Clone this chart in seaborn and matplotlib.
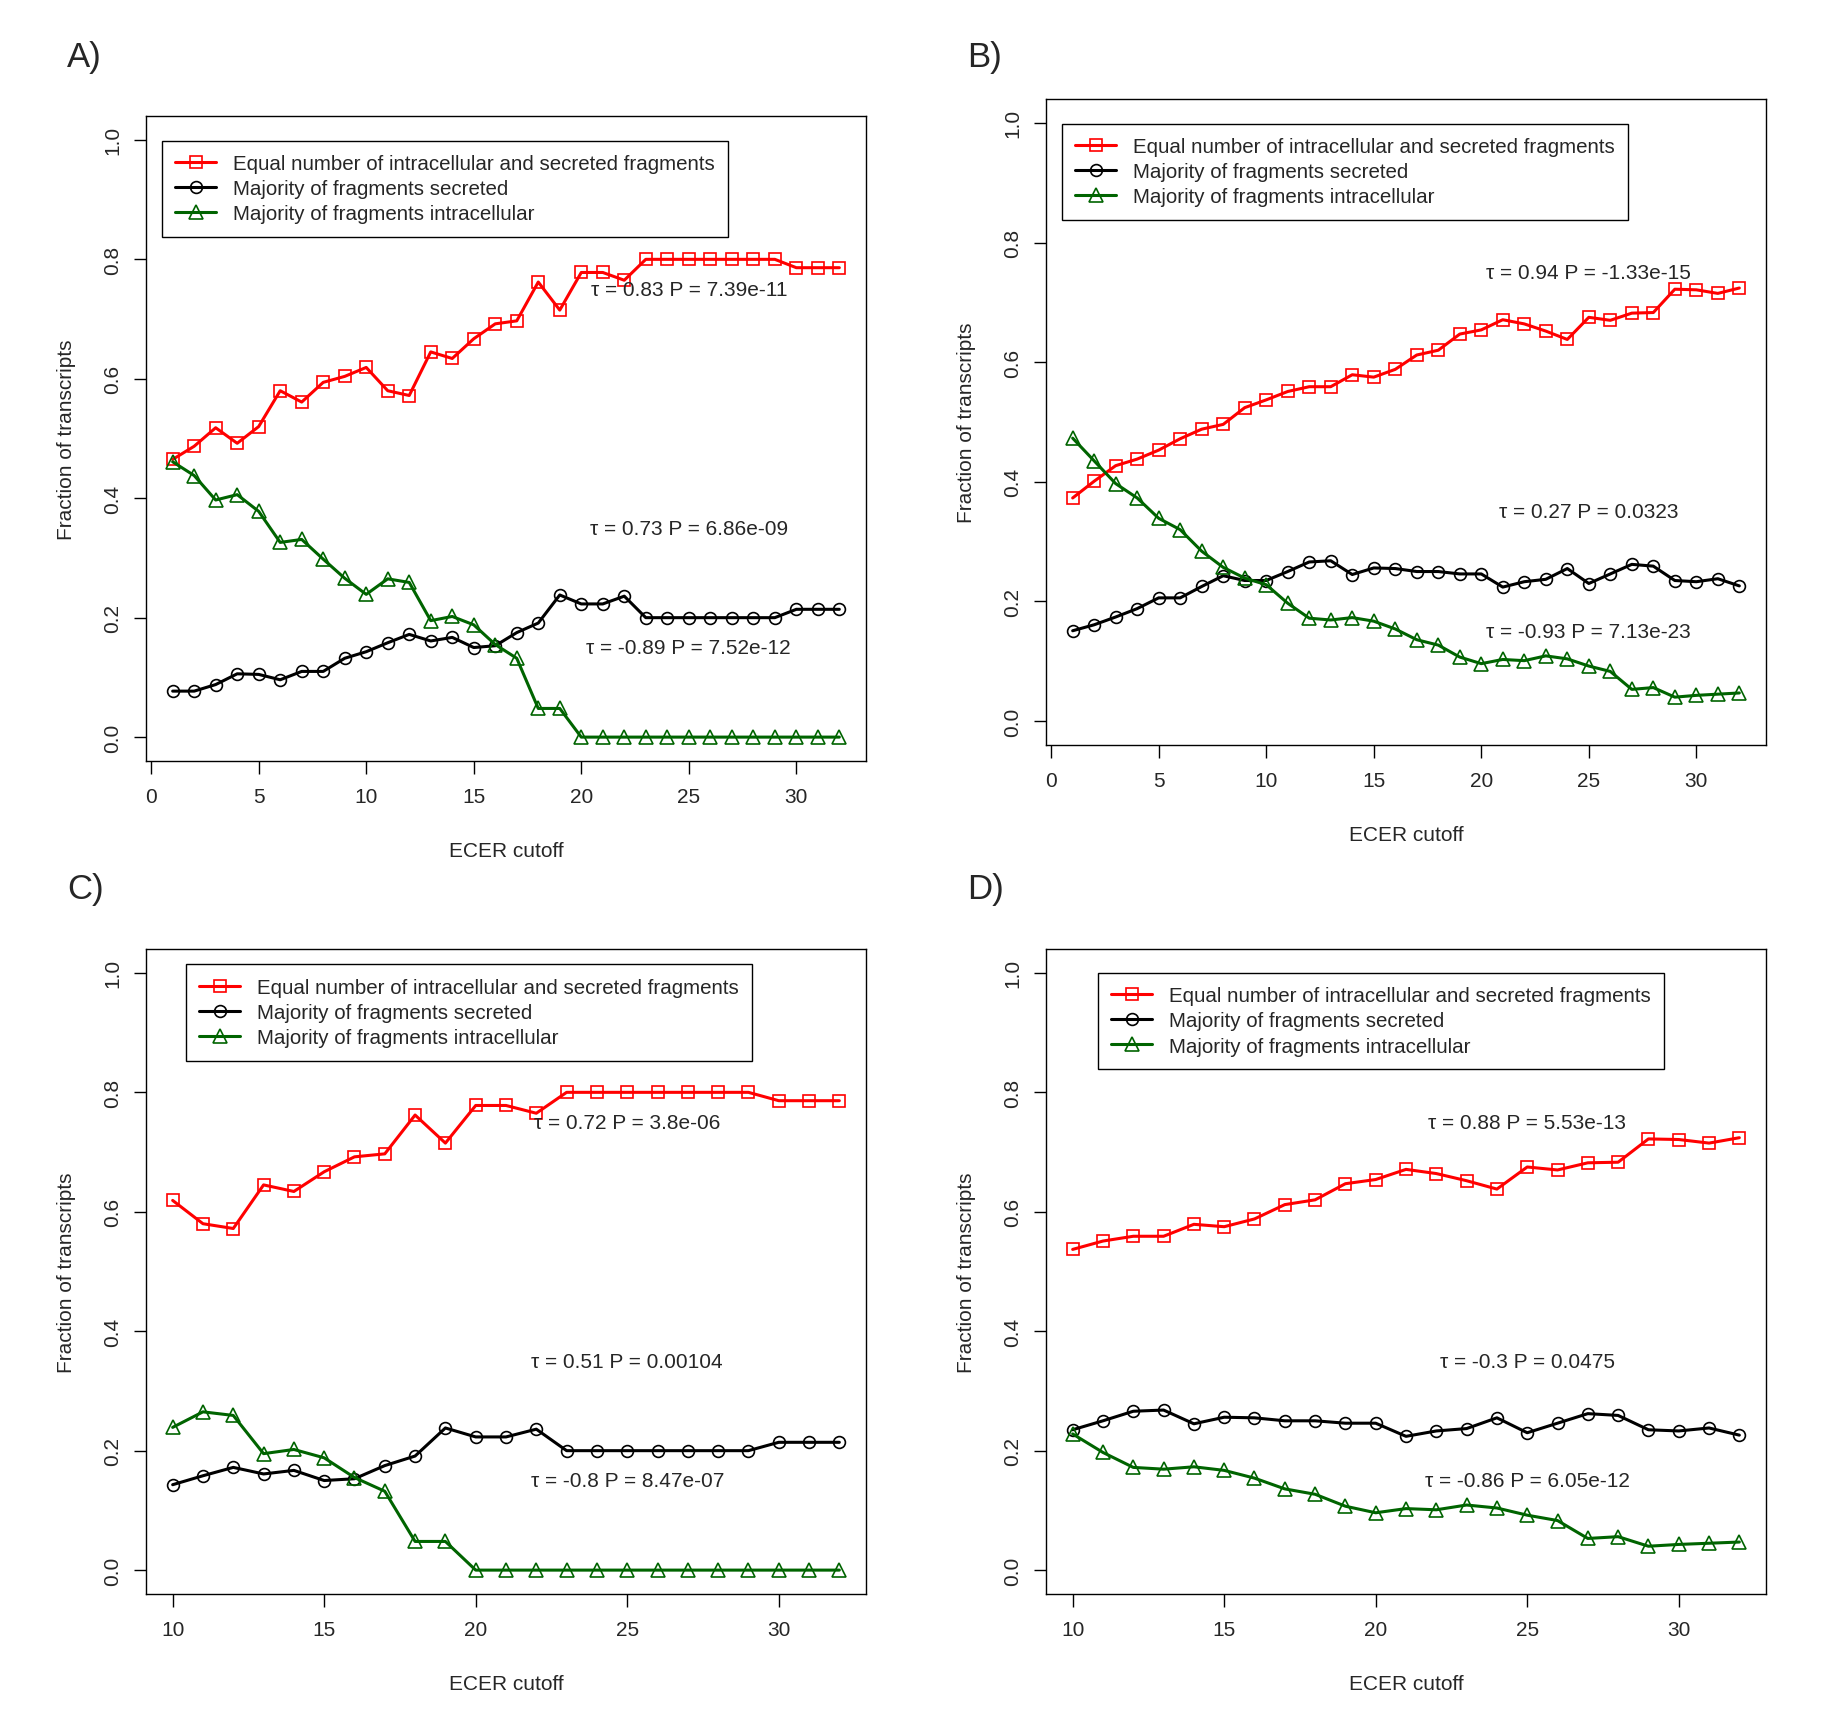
import matplotlib
matplotlib.use("Agg")
import matplotlib.pyplot as plt
import pandas as pd
import seaborn as sns

# ECER cutoffs 1..32 for panels A/B; panels C/D start at 10
cutoff = list(range(1, 33))

# panel A
a_equal = [0.465, 0.487, 0.518, 0.492, 0.520, 0.580, 0.561, 0.594, 0.604, 0.619,
           0.580, 0.572, 0.645, 0.634, 0.667, 0.692, 0.697, 0.762, 0.715, 0.778,
           0.778, 0.765, 0.800, 0.800, 0.800, 0.800, 0.800, 0.800, 0.800, 0.786,
           0.786, 0.786]
a_secreted = [0.077, 0.077, 0.088, 0.106, 0.105, 0.096, 0.110, 0.110, 0.132, 0.143,
              0.158, 0.172, 0.161, 0.167, 0.150, 0.153, 0.175, 0.191, 0.238, 0.223,
              0.223, 0.236, 0.200, 0.200, 0.200, 0.200, 0.200, 0.200, 0.200, 0.214,
              0.214, 0.214]
a_intra = [0.461, 0.438, 0.397, 0.406, 0.378, 0.326, 0.331, 0.298, 0.266, 0.239,
           0.265, 0.259, 0.195, 0.202, 0.188, 0.155, 0.132, 0.048, 0.048, 0.0,
           0.0, 0.0, 0.0, 0.0, 0.0, 0.0, 0.0, 0.0, 0.0, 0.0,
           0.0, 0.0]

# panel B
b_equal = [0.373, 0.401, 0.427, 0.438, 0.453, 0.472, 0.488, 0.496, 0.524, 0.537,
           0.551, 0.559, 0.559, 0.579, 0.575, 0.588, 0.612, 0.620, 0.647, 0.654,
           0.671, 0.664, 0.652, 0.638, 0.675, 0.670, 0.682, 0.683, 0.722, 0.721,
           0.715, 0.724]
b_secreted = [0.151, 0.161, 0.174, 0.188, 0.206, 0.206, 0.225, 0.243, 0.235, 0.235,
              0.250, 0.266, 0.268, 0.245, 0.256, 0.255, 0.250, 0.250, 0.246, 0.246,
              0.224, 0.233, 0.237, 0.255, 0.230, 0.246, 0.262, 0.259, 0.235, 0.233,
              0.238, 0.226]
b_intra = [0.473, 0.435, 0.397, 0.373, 0.339, 0.320, 0.284, 0.257, 0.239, 0.228,
           0.197, 0.172, 0.169, 0.173, 0.167, 0.154, 0.136, 0.127, 0.107, 0.096,
           0.103, 0.101, 0.109, 0.104, 0.092, 0.083, 0.053, 0.056, 0.040, 0.043,
           0.045, 0.047]

tau_a = ["τ = 0.83 P = 7.39e-11", "τ = 0.73 P = 6.86e-09", "τ = -0.89 P = 7.52e-12"]
tau_b = ["τ = 0.94 P = -1.33e-15", "τ = 0.27 P = 0.0323", "τ = -0.93 P = 7.13e-23"]
tau_c = ["τ = 0.72 P = 3.8e-06", "τ = 0.51 P = 0.00104", "τ = -0.8 P = 8.47e-07"]
tau_d = ["τ = 0.88 P = 5.53e-13", "τ = -0.3 P = 0.0475", "τ = -0.86 P = 6.05e-12"]

series_names = ["Equal number of intracellular and secreted fragments",
                "Majority of fragments secreted",
                "Majority of fragments intracellular"]
series_colors = ["#ff0000", "#000000", "#006400"]
series_markers = ["s", "o", "^"]

sns.set_style("white")
plt.rcParams["font.family"] = ["Liberation Sans", "DejaVu Sans"]
plt.rcParams["font.size"] = 15

W, H = 1833, 1733


def box(l, t, r, b):
    return [l / W, 1 - b / H, (r - l) / W, (b - t) / H]


def panel(ax, start, equal, secreted, intra, taus, xticks, leg_xy):
    x = cutoff[start:]
    for vals, name, col, mk in zip([equal, secreted, intra], series_names,
                                   series_colors, series_markers):
        df = pd.DataFrame({"x": x, "y": vals[start:]})
        ms = 9.5 if mk == "^" else 8.5
        sns.lineplot(data=df, x="x", y="y", ax=ax, color=col, marker=mk,
                     markersize=ms, markerfacecolor="none", markeredgecolor=col,
                     markeredgewidth=1.2, linewidth=2.2, errorbar=None, label=name)
    lo, hi = x[0], x[-1]
    pad = (hi - lo) * 0.04
    ax.set_xlim(lo - pad, hi + pad)
    ax.set_ylim(-0.04, 1.04)
    ax.set_xticks(xticks)
    ax.set_yticks([0.0, 0.2, 0.4, 0.6, 0.8, 1.0])
    ax.set_yticklabels(["0.0", "0.2", "0.4", "0.6", "0.8", "1.0"], rotation=90,
                       va="center")
    ax.tick_params(bottom=True, left=True, direction="out", length=9, width=1,
                   color="black", pad=10, labelsize=15)
    ax.tick_params(axis="y", pad=8)
    ax.set_xlabel("ECER cutoff", fontsize=15, labelpad=25)
    ax.set_ylabel("Fraction of transcripts", fontsize=15, labelpad=20)
    for s in ax.spines.values():
        s.set_visible(True)
        s.set_linewidth(1.0)
        s.set_color("black")
    for txt, yy in zip(taus, [0.75, 0.35, 0.15]):
        ax.text(25, yy, txt, ha="center", va="center", fontsize=15)
    h, l = ax.get_legend_handles_labels()
    ax.legend(h, l, loc="upper left", bbox_to_anchor=leg_xy, frameon=True,
              fancybox=False, edgecolor="black", framealpha=1, fontsize=14.8,
              borderpad=0.65, labelspacing=0.3, handlelength=2.0,
              handletextpad=0.8, borderaxespad=0)
    ax.get_legend().get_frame().set_linewidth(1.0)


fig = plt.figure(figsize=(W / 100, H / 100), dpi=100)
ax_a = fig.add_axes(box(146, 117, 866, 762))
ax_b = fig.add_axes(box(1046, 100, 1766, 746))
ax_c = fig.add_axes(box(146, 950, 866, 1595))
ax_d = fig.add_axes(box(1046, 950, 1766, 1595))

panel(ax_a, 0, a_equal, a_secreted, a_intra, tau_a, [0, 5, 10, 15, 20, 25, 30], (0.022, 0.962))
panel(ax_b, 0, b_equal, b_secreted, b_intra, tau_b, [0, 5, 10, 15, 20, 25, 30], (0.022, 0.962))
panel(ax_c, 9, a_equal, a_secreted, a_intra, tau_c, [10, 15, 20, 25, 30], (0.055, 0.976))
panel(ax_d, 9, b_equal, b_secreted, b_intra, tau_d, [10, 15, 20, 25, 30], (0.072, 0.963))

for lab, px, py in [("A)", 67, 57), ("B)", 967, 57), ("C)", 67, 890), ("D)", 967, 890)]:
    fig.text(px / W, 1 - py / H, lab, fontsize=25, ha="left", va="center")

fig.savefig("out.png", dpi=100, facecolor="white")
